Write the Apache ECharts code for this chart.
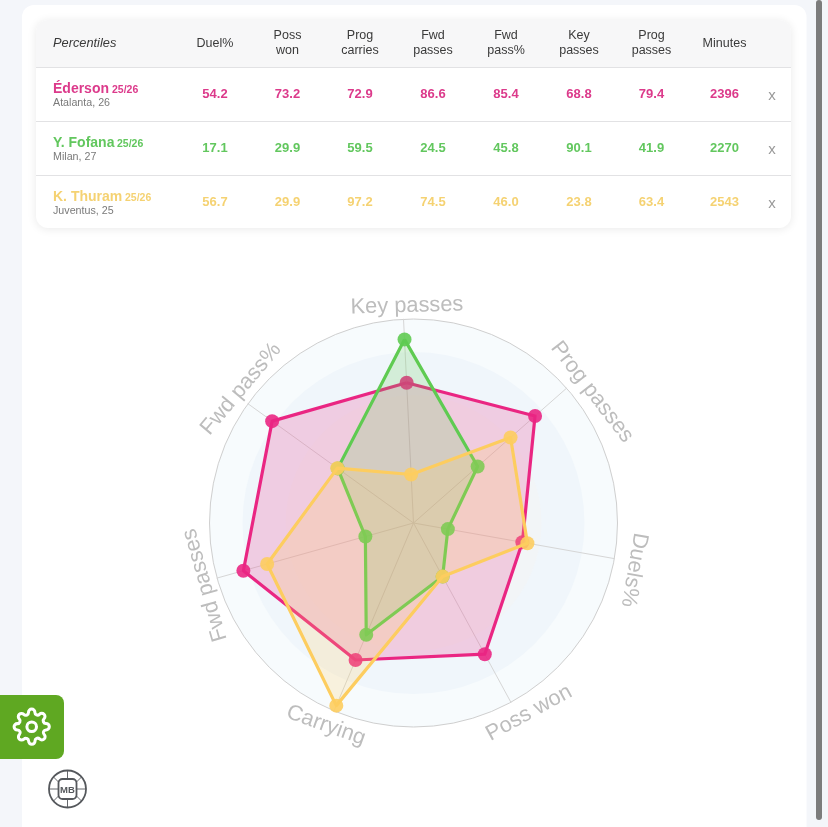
<!DOCTYPE html>
<html><head><meta charset="utf-8">
<script src="https://cdn.jsdelivr.net/npm/echarts@6/dist/echarts.min.js"></script>
<style>
html,body{margin:0;padding:0;background:#f4f6fa;width:828px;height:827px;overflow:hidden;font-family:"Liberation Sans",Arial,sans-serif}
#chart{position:absolute;left:0;top:0;width:828px;height:827px}
#ov{position:absolute;left:0;top:0;width:828px;height:827px;pointer-events:none}
</style></head><body>
<div id="chart"></div>
<svg id="ov" xmlns="http://www.w3.org/2000/svg" width="828" height="827"></svg>
<script>
var headers = ['Duel%','Poss\nwon','Prog\ncarries','Fwd\npasses','Fwd\npass%','Key\npasses','Prog\npasses','Minutes'];
var players = ['Éderson','Y. Fofana','K. Thuram'];
var seasons = ['25/26','25/26','25/26'];
var clubs = ['Atalanta, 26','Milan, 27','Juventus, 25'];
var duelPct = [54.2,17.1,56.7];
var possWon = [73.2,29.9,29.9];
var progCarries = [72.9,59.5,97.2];
var fwdPasses = [86.6,24.5,74.5];
var fwdPassPct = [85.4,45.8,46.0];
var keyPasses = [68.8,90.1,23.8];
var progPasses = [79.4,41.9,63.4];
var minutes = [2396,2270,2543];
var radarAxes = ['Key passes','Fwd pass%','Fwd passes','Carrying','Poss won','Duels%','Prog passes'];
var lineColors = ['#ea2683','#5fcb52','#fdcd5f'];
var textColors = ['#dc3a8b','#62c75e','#f5d272'];

var cols = [duelPct,possWon,progCarries,fwdPasses,fwdPassPct,keyPasses,progPasses,minutes];
var colX = [215,287.5,360,433,506,579,651.5,724.5];
var rowY = [94,148,202];
var seasonX = [112,117,125];
var nameX = [407,241,205,326,529,634,592];
var nameY = [306,389,585,725.5,713,570,392];
var nameRot = [-1.5,-50,-106,19.7,-28.6,100,52.4];
var g = [];
g.push({type:'rect',silent:true,z:0,shape:{x:22,y:5,width:784.5,height:840,r:12},style:{fill:'#fff'}});
g.push({type:'circle',silent:true,z:1,shape:{cx:413.5,cy:523,r:204},style:{fill:'#f7fbfd'}});
g.push({type:'circle',silent:true,z:1,shape:{cx:413.5,cy:523,r:171},style:{fill:'#f0f6fb'}});
g.push({type:'circle',silent:true,z:1,shape:{cx:413.5,cy:523,r:128},style:{fill:'#f2f5f7'}});
g.push({type:'rect',silent:true,z:1,shape:{x:36,y:20,width:755,height:208,r:12},style:{fill:'#fff',shadowBlur:10,shadowColor:'rgba(0,0,0,0.09)',shadowOffsetY:1}});
g.push({type:'rect',silent:true,z:2,shape:{x:36,y:20,width:755,height:47,r:[12,12,0,0]},style:{fill:'#f7f7f8'}});
[67,121,175].forEach(function(y){g.push({type:'rect',silent:true,z:3,shape:{x:36,y:y,width:755,height:1},style:{fill:'#e2e2e4'}});});
function txt(x,y,t,font,fill,al,lh){g.push({type:'text',silent:true,z:5,x:x,y:y,style:{text:t,font:font,fill:fill,align:al||'center',verticalAlign:'middle',lineHeight:lh||15}});}
var F='"Liberation Sans",Arial,sans-serif';
txt(53,43.5,'Percentiles','italic 12.8px '+F,'#3a3a3a','left');
headers.forEach(function(h,i){txt(colX[i],43.5,h,'12.5px '+F,'#3a3a3a','center',15);});
players.forEach(function(p,r){
  var c=textColors[r];
  txt(53,rowY[r]-4.5,p,'bold 14px '+F,c,'left');
  txt(seasonX[r],rowY[r]-4,seasons[r],'bold 10.5px '+F,c,'left');
  txt(53,rowY[r]+9,clubs[r],'10.7px '+F,'#7a7a7a','left');
  cols.forEach(function(col,i){
    txt(colX[i],rowY[r],i<7?col[r].toFixed(1):String(col[r]),'bold 13px '+F,c);
  });
  txt(772,rowY[r]+1.5,'x','15px '+F,'#9a9a9a');
});
g.push({type:'rect',silent:true,z:6,shape:{x:-10,y:695,width:74,height:64,r:8},style:{fill:'#5fa822'}});
radarAxes.forEach(function(n,i){
  g.push({type:'text',silent:true,z:5,x:nameX[i],y:nameY[i],rotation:-nameRot[i]*Math.PI/180,
    style:{text:n,font:'21.8px '+F,fill:'#bdbdbd',align:'center',verticalAlign:'middle'}});
});

var keyOf=[keyPasses,fwdPassPct,fwdPasses,progCarries,possWon,duelPct,progPasses];
var seriesData=players.map(function(p,r){
  return {name:p,value:keyOf.map(function(a){return a[r];}),
    lineStyle:{color:lineColors[r],width:3.2},
    itemStyle:{color:lineColors[r],opacity:0.9},
    areaStyle:{color:lineColors[r],opacity:0.2}};
});
var option={
  animation:false,
  graphic:g,
  radar:{
    z:2,center:[413.5,523],radius:204,startAngle:92.8,splitNumber:1,shape:'circle',
    indicator:radarAxes.map(function(n){return {name:n,min:0,max:100};}),
    axisName:{show:false},
    axisLine:{lineStyle:{color:'#d6d6d6',width:1}},
    axisTick:{show:false},
    splitLine:{lineStyle:{color:'#cfcfcf',width:1}},
    splitArea:{show:false}
  },
  series:players.map(function(p,r){
    return {type:'radar',name:p,z:10+r,symbol:'circle',symbolSize:14,data:[seriesData[r]]};
  })
};
var chart=echarts.init(document.getElementById('chart'),null,{renderer:'canvas',width:828,height:827});
chart.setOption(option);

document.getElementById('ov').innerHTML=
'<g transform="translate(12.5,707.5) scale(1.6)" fill="none" stroke="#fff" stroke-width="1.9" stroke-linecap="round" stroke-linejoin="round"><path d="M12 15a3 3 0 1 0 0-6 3 3 0 0 0 0 6z"/><path d="M19.4 15a1.65 1.65 0 0 0 .33 1.82l.06.06a2 2 0 0 1 0 2.83 2 2 0 0 1-2.83 0l-.06-.06a1.65 1.65 0 0 0-1.82-.33 1.65 1.65 0 0 0-1 1.51V21a2 2 0 0 1-2 2 2 2 0 0 1-2-2v-.09A1.65 1.65 0 0 0 9 19.4a1.65 1.65 0 0 0-1.82.33l-.06.06a2 2 0 0 1-2.83 0 2 2 0 0 1 0-2.83l.06-.06a1.65 1.65 0 0 0 .33-1.82 1.65 1.65 0 0 0-1.51-1H3a2 2 0 0 1-2-2 2 2 0 0 1 2-2h.09A1.65 1.65 0 0 0 4.6 9a1.65 1.65 0 0 0-.33-1.82l-.06-.06a2 2 0 0 1 0-2.83 2 2 0 0 1 2.83 0l.06.06a1.65 1.65 0 0 0 1.82.33H9a1.65 1.65 0 0 0 1-1.51V3a2 2 0 0 1 2-2 2 2 0 0 1 2 2v.09a1.65 1.65 0 0 0 1 1.51 1.65 1.65 0 0 0 1.82-.33l.06-.06a2 2 0 0 1 2.83 0 2 2 0 0 1 0 2.83l-.06.06a1.65 1.65 0 0 0-.33 1.82V9a1.65 1.65 0 0 0 1.51 1H21a2 2 0 0 1 2 2 2 2 0 0 1-2 2h-.09a1.65 1.65 0 0 0-1.51 1z"/></g>'+
'<g transform="translate(67.5,789)" fill="none" stroke="#55585c"><circle r="18.5" stroke-width="1.8"/><rect x="-9" y="-10" width="18" height="20" rx="4" stroke-width="1.8"/><path d="M0 -18V-10M0 10V18M-18 0H-9M9 0H18M-9 -7L-14 -12M9 -7L14 -12M-9 7L-14 12M9 7L14 12" stroke-width="0.9"/><text x="0" y="4" text-anchor="middle" font-family="Liberation Sans,Arial,sans-serif" font-weight="bold" font-size="9.5" fill="#55585c" stroke="none">MB</text></g>'+
'<rect x="816" y="0" width="6" height="820" rx="3" fill="#7c7c7c"/>';
</script>
</body></html>
